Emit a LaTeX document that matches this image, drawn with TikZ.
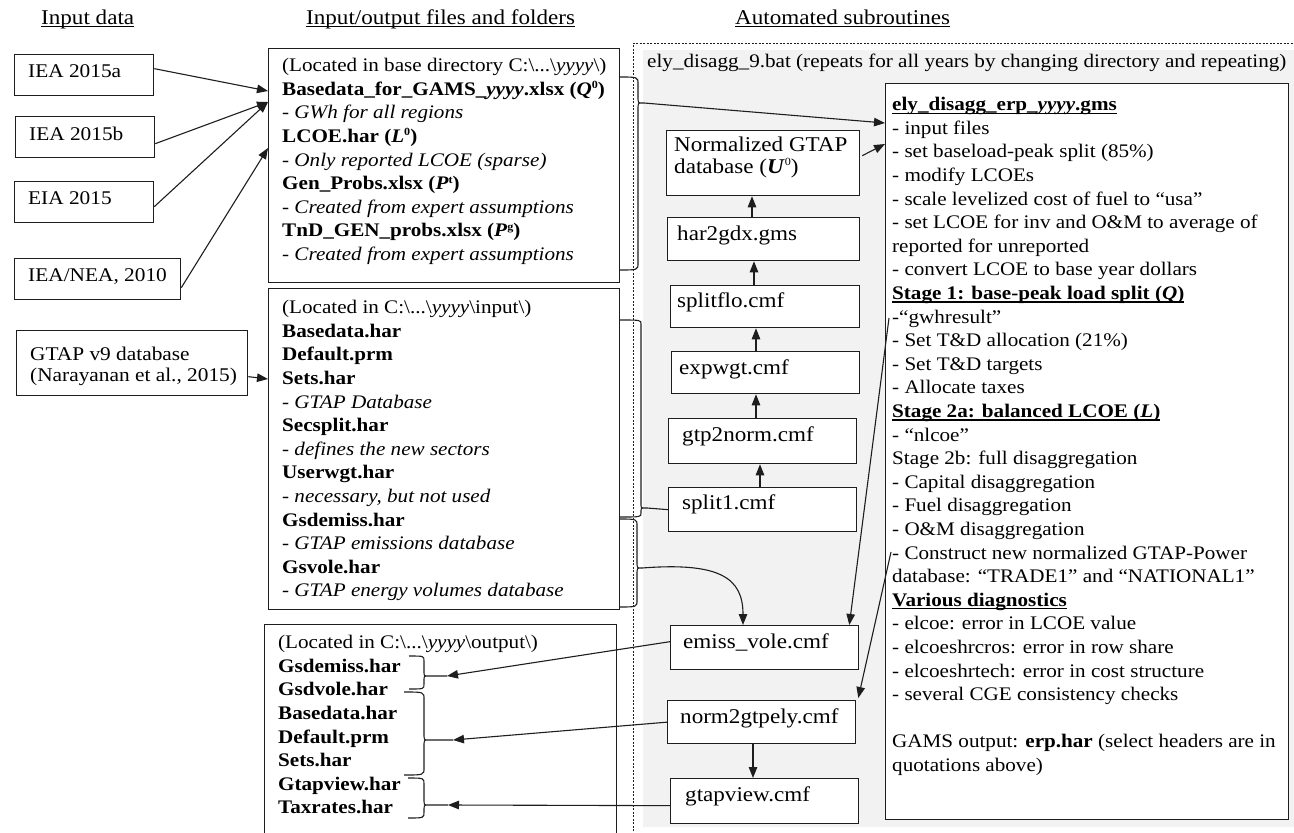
\documentclass[tikz,border=0pt]{standalone}
\usepackage{fontspec}
\setmainfont{Liberation Serif}[FakeStretch=1.1]
\usetikzlibrary{arrows.meta,calc}
\definecolor{bggray}{HTML}{F2F2F2}
\definecolor{ink}{HTML}{1E1E1E}
\newcommand\mainsz{\fontsize{19.2}{23.6}\selectfont}
\newcommand\leftsz{\fontsize{19.4}{21}\selectfont}
\newcommand\censz{\fontsize{21}{22}\selectfont}
\newcommand\hdrsz{\fontsize{21}{24}\selectfont}
\newcommand\myul[1]{\setbox0\hbox{#1}\rlap{\rule[-3pt]{\wd0}{1.1pt}}\box0}
\newcommand\sups[1]{\raisebox{0.75ex}{\fontsize{11}{11}\selectfont #1}}
% right-pointing curly brace: x0, ytop, ybot, spine x, tip y, tip end x, radius
\newcommand\mybrace[7]{\draw[brc] (#1,#2) .. controls (#4,#2) .. (#4,#2+#7) -- (#4,#5-#7) .. controls (#4,#5) .. (#4+4,#5) -- (#6,#5) (#4+4,#5) .. controls (#4,#5) .. (#4,#5+#7) -- (#4,#3-#7) .. controls (#4,#3) .. (#1,#3);}
\begin{document}
\begin{tikzpicture}[x=1pt,y=-1pt,
  box/.style={draw=ink, line width=1.3pt, fill=white, inner sep=0pt, anchor=north west},
  txt/.style={font=\mainsz, inner sep=0pt, align=left, anchor=north west},
  ctxt/.style={font=\censz, inner sep=0pt, align=left, anchor=west},
  ltxt/.style={font=\leftsz, inner sep=0pt, align=left, anchor=west},
  hdr/.style={font=\hdrsz, inner sep=0pt, anchor=base west},
  conn/.style={draw=ink, line width=1.1pt},
  arr/.style={conn, -{Triangle[length=11pt,width=8.5pt]}},
  brc/.style={draw=ink, line width=1.1pt}]
\useasboundingbox (0,0) rectangle (1294,833);
\clip (0,0) rectangle (1294,833);
\fill[white] (0,0) rectangle (1294,833);

% automated region
\fill[bggray] (643,50) rectangle (1294,827);
\draw[ink, line width=0.8pt, dash pattern=on 2pt off 1.5pt] (633,845) -- (633,43) -- (1300,43);

% headers
\node[hdr] (h1) at (41,24) {\myul{Input data}};
\node[hdr] (h2) at (306,24) {\myul{Input/output files and folders}};
\node[hdr] (h3) at (735,24) {\myul{Automated subroutines}};

% input data boxes
\node[box, minimum width=139pt, minimum height=41pt] (iea1) at (14,54) {};
\node[ltxt] (iea1t) at ($(iea1.west)+(14,-4)$) {IEA 2015a};
\node[box, minimum width=139pt, minimum height=41pt] (iea2) at (15,116) {};
\node[ltxt] (iea2t) at ($(iea2.west)+(14,-3)$) {IEA 2015b};
\node[box, minimum width=139pt, minimum height=41pt] (eia) at (14,181) {};
\node[ltxt] (eiat) at ($(eia.west)+(14,-4)$) {EIA 2015};
\node[box, minimum width=166pt, minimum height=41pt] (ieanea) at (14,258) {};
\node[ltxt] (ieaneat) at ($(ieanea.west)+(14,-3)$) {IEA/NEA, 2010};
\node[box, minimum width=231pt, minimum height=65pt] (gtap) at (16,330) {};
\node[ltxt] (gtapt) at ($(gtap.west)+(14,3)$) {GTAP v9 database\\(Narayanan et al., 2015)};

% file boxes
\node[box, minimum width=351pt, minimum height=234pt] (f1) at (268,48) {};
\node[txt] (f1t) at (282,55) {\strut(Located in base directory C:\textbackslash...\textbackslash\textit{yyyy}\textbackslash)\\
\textbf{Basedata\_for\_GAMS\_\textit{yyyy}.xlsx (\textit{Q}\sups{0})}\\
\textit{- GWh for all regions}\\
\textbf{LCOE.har (\textit{L}\sups{0})}\\
\textit{- Only reported LCOE (sparse)}\\
\textbf{Gen\_Probs.xlsx (\textit{P}\sups{t})}\\
\textit{- Created from expert assumptions}\\
\textbf{TnD\_GEN\_probs.xlsx (\textit{P}\sups{g})}\\
\textit{- Created from expert assumptions}};

\node[box, minimum width=351pt, minimum height=321pt] (f2) at (268,288) {};
\node[txt] (f2t) at (282,297) {\strut(Located in C:\textbackslash...\textbackslash\textit{yyyy}\textbackslash input\textbackslash)\\
\textbf{Basedata.har}\\
\textbf{Default.prm}\\
\textbf{Sets.har}\\
\textit{- GTAP Database}\\
\textbf{Secsplit.har}\\
\textit{- defines the new sectors}\\
\textbf{Userwgt.har}\\
\textit{- necessary, but not used}\\
\textbf{Gsdemiss.har}\\
\textit{- GTAP emissions database}\\
\textbf{Gsvole.har}\\
\textit{- GTAP energy volumes database}};

\node[box, minimum width=352pt, minimum height=230pt] (f3) at (264,624) {};
\node[txt] (f3t) at (278,632) {\strut(Located in C:\textbackslash...\textbackslash\textit{yyyy}\textbackslash output\textbackslash)\\
\textbf{Gsdemiss.har}\\
\textbf{Gsdvole.har}\\
\textbf{Basedata.har}\\
\textbf{Default.prm}\\
\textbf{Sets.har}\\
\textbf{Gtapview.har}\\
\textbf{Taxrates.har}};

% batch label
\node[font=\mainsz, inner sep=0pt, anchor=base west] (bat) at (647,67) {ely\_disagg\_9.bat (repeats for all years by changing directory and repeating)};

% subroutine boxes
\node[box, minimum width=193pt, minimum height=65pt] (norm) at (666,130) {};
\node[ctxt] (normt) at ($(norm.west)+(8,-6)$) {Normalized GTAP\\database (\textbf{\textit{U}}\sups{0})};
\node[box, minimum width=192pt, minimum height=43pt] (har) at (667,217) {};
\node[ctxt] (hart) at ($(har.west)+(10,-4)$) {har2gdx.gms};
\node[box, minimum width=189pt, minimum height=42pt] (splitflo) at (670,285) {};
\node[ctxt] (splitflot) at ($(splitflo.west)+(7,-4)$) {splitflo.cmf};
\node[box, minimum width=188pt, minimum height=42pt] (expwgt) at (671,351) {};
\node[ctxt] (expwgtt) at ($(expwgt.west)+(8,-3)$) {expwgt.cmf};
\node[box, minimum width=188pt, minimum height=45pt] (gtp2norm) at (668,418) {};
\node[ctxt] (gtp2normt) at ($(gtp2norm.west)+(14,-5)$) {gtp2norm.cmf};
\node[box, minimum width=188pt, minimum height=44pt] (split1) at (668,487) {};
\node[ctxt] (split1t) at ($(split1.west)+(14,-5)$) {split1.cmf};
\node[box, minimum width=188pt, minimum height=44pt] (emiss) at (670,625) {};
\node[ctxt] (emisst) at ($(emiss.west)+(13,-5)$) {emiss\_vole.cmf};
\node[box, minimum width=188pt, minimum height=43pt] (norm2) at (667,700) {};
\node[ctxt] (norm2t) at ($(norm2.west)+(13,-4)$) {norm2gtpely.cmf};
\node[box, minimum width=188pt, minimum height=45pt] (gtapview) at (670,778) {};
\node[ctxt] (gtapviewt) at ($(gtapview.west)+(15,-5)$) {gtapview.cmf};

% GAMS program box
\node[box, minimum width=403pt, minimum height=736pt] (rb) at (885,83) {};
\node[txt] (rbt) at (892,94) {\strut\myul{\textbf{ely\_disagg\_erp\_\textit{yyyy}.gms}}\\
- input files\\
- set baseload-peak split (85\%)\\
- modify LCOEs\\
- scale levelized cost of fuel to “usa”\\
- set LCOE for inv and O\&M to average of\\
reported for unreported\\
- convert LCOE to base year dollars\\
\myul{\textbf{Stage 1: base-peak load split (\textit{Q})}}\\
-“gwhresult”\\
- Set T\&D allocation (21\%)\\
- Set T\&D targets\\
- Allocate taxes\\
\myul{\textbf{Stage 2a: balanced LCOE (\textit{L})}}\\
- “nlcoe”\\
Stage 2b: full disaggregation\\
- Capital disaggregation\\
- Fuel disaggregation\\
- O\&M disaggregation\\
- Construct new normalized GTAP-Power\\
database: “TRADE1” and “NATIONAL1”\\
\myul{\textbf{Various diagnostics}}\\
- elcoe: error in LCOE value\\
- elcoeshrcros: error in row share\\
- elcoeshrtech: error in cost structure\\
- several CGE consistency checks\\
\mbox{}\\
GAMS output: \textbf{erp.har} (select headers are in\\
quotations above)};

% braces
\mybrace{619}{77}{270}{638}{103}{644}{7}
\coordinate (t1) at (644,103);
\mybrace{619}{320}{517}{641}{508}{647}{4}
\coordinate (t2) at (647,508);
\mybrace{619}{519}{607}{637}{568}{642}{7}
\coordinate (t3) at (642,568);
\mybrace{409}{656}{689}{424}{676}{447}{5}
\coordinate (tA) at (447,676);
\mybrace{404}{692}{775}{424}{740}{453}{7}
\coordinate (tB) at (453,740);
\mybrace{408}{778}{818}{424}{805}{448}{6}
\coordinate (tC) at (448,805);

% connectors: input data
\draw[arr] ($(iea1.east)+(0,-6.5)$) -- ($(f1.north west)+(0,43)$);
\draw[arr] ($(iea2.east)+(0,6.5)$) -- ($(f1.north west)+(0,54)$);
\draw[arr] ($(eia.east)+(0,4.5)$) -- ($(f1.north west)+(0,54)$);
\draw[arr] ($(ieanea.east)+(0,8.5)$) -- ($(f1.north west)+(0,100)$);
\draw[arr] ($(gtap.east)+(0,13.5)$) -- ($(f2.north west)+(0,91)$);

% connectors: files to subroutines
\draw[arr] (t1) -- ($(rb.north west)+(0,40)$);
\draw[conn] (t2) -- (split1.west);
\draw[arr] (t3) .. controls (720,562) and (743,578) .. ($(emiss.north west)+(73,0)$);

% chain
\draw[arr] ($(split1.north west)+(92,0)$) -- ($(gtp2norm.south west)+(92,0)$);
\draw[arr] ($(gtp2norm.north west)+(88,0)$) -- ($(expwgt.south west)+(85,0)$);
\draw[arr] ($(expwgt.north west)+(85,0)$) -- ($(splitflo.south west)+(86,0)$);
\draw[arr] ($(splitflo.north west)+(84,0)$) -- ($(har.south west)+(87,0)$);
\draw[arr] ($(har.north west)+(85,0)$) -- ($(norm.south west)+(86,0)$);
\draw[arr] ($(norm.east)+(2,-7.5)$) -- ($(rb.north west)+(0,61)$);

% GAMS to later steps
\draw[arr] ($(rb.north west)+(4,235)$) -- ($(emiss.north east)+(-10,0)$);
\draw[arr] ($(rb.north west)+(6,469)$) -- ($(norm2.north east)+(2,-2)$);
\draw[arr] ($(norm2.south west)+(86,0)$) -- ($(gtapview.north west)+(83,0)$);

% outputs
\draw[arr] ($(emiss.west)+(0,-6)$) -- (tA);
\draw[arr] (norm2.west) -- (tB);
\draw[arr] ($(gtapview.west)+(0,4.5)$) -- (tC);
\end{tikzpicture}
\end{document}
